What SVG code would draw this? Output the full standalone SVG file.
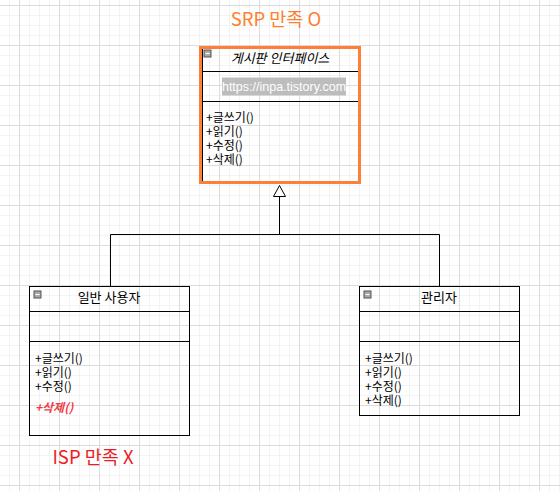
<svg xmlns="http://www.w3.org/2000/svg" width="560" height="491" viewBox="0 0 560 491">
<style>
.box{fill:none;stroke:#000;stroke-width:1}
.t{font-family:"Noto Sans CJK KR","Noto Sans",sans-serif;font-size:12px;fill:#000}
.c{text-anchor:middle}
.red{fill:#f03c46;font-style:italic;font-weight:bold}
.ico{fill:#a9a9a9;stroke:#555;stroke-width:1}
.big{font-family:"Noto Sans CJK KR","Noto Sans",sans-serif;font-size:18.5px;text-anchor:middle}
</style>
<defs>
<pattern id="minor" patternUnits="userSpaceOnUse" x="9" y="5" width="10" height="10">
<path d="M0.5 0V10M0 0.5H10" stroke="#f3f3f3" stroke-width="1" fill="none"/>
</pattern>
<pattern id="major" patternUnits="userSpaceOnUse" x="19" y="5" width="40" height="40">
<path d="M0.5 0V40M0 0.5H40" stroke="#dcdcdc" stroke-width="1" fill="none"/>
</pattern>
<g id="icon"><rect class="ico" x="0.5" y="0.5" width="7" height="7"/><path d="M2 4H6" stroke="#fff" stroke-width="1"/></g>
</defs>
<rect width="560" height="491" fill="#fff"/>
<rect width="560" height="491" fill="url(#minor)"/>
<rect width="560" height="491" fill="url(#major)"/>

<text class="big" x="276" y="26" style="fill:#ff7f2f">SRP 만족 O</text>
<text class="big" x="93" y="464" style="fill:#ed1c24">ISP 만족 X</text>

<g id="connectors" fill="none" stroke="#000" stroke-width="1">
<path d="M110.5 286V234.5H439.5V286"/>
<path d="M279.5 234.5V196"/>
<path d="M279.5 185.5L273.5 196.5H285.5Z" fill="#fff"/>
</g>

<g id="board">
<rect class="box" x="202.5" y="47.5" width="156" height="136"/>
<path d="M203 71.5H358M203 101.5H358" stroke="#000" stroke-width="1"/>
<use href="#icon" x="203.5" y="49.5"/>
<text class="t c" x="280" y="62.5" font-style="italic" style="font-size:13px">게시판 인터페이스</text>
<rect x="222" y="77.5" width="124" height="18" fill="#bdbdbd"/>
<text x="284" y="91" text-anchor="middle" font-family="'Liberation Sans',sans-serif" font-size="12.5" fill="#fff">https://inpa.tistory.com</text>
<text class="t" x="206" y="122">+글쓰기()</text>
<text class="t" x="206" y="136">+읽기()</text>
<text class="t" x="206" y="150">+수정()</text>
<text class="t" x="206" y="164">+삭제()</text>
<rect x="200.5" y="47.5" width="159" height="135" fill="none" stroke="#ff7f3a" stroke-width="3"/>
</g>

<g id="user">
<rect class="box" x="29.5" y="286.5" width="160" height="149"/>
<path d="M30 311.5H189M30 341.5H189" stroke="#000" stroke-width="1"/>
<use href="#icon" x="33.5" y="290.5"/>
<text class="t c" x="109" y="302" style="font-size:13px">일반 사용자</text>
<text class="t" x="35" y="363">+글쓰기()</text>
<text class="t" x="35" y="377">+읽기()</text>
<text class="t" x="35" y="391">+수정()</text>
<text class="t red" x="35" y="412">+삭제()</text>
</g>

<g id="admin">
<rect class="box" x="359.5" y="286.5" width="160" height="129"/>
<path d="M360 311.5H519M360 341.5H519" stroke="#000" stroke-width="1"/>
<use href="#icon" x="363.5" y="290.5"/>
<text class="t c" x="439" y="302" style="font-size:13px">관리자</text>
<text class="t" x="365" y="363">+글쓰기()</text>
<text class="t" x="365" y="377">+읽기()</text>
<text class="t" x="365" y="391">+수정()</text>
<text class="t" x="365" y="405">+삭제()</text>
</g>
</svg>
